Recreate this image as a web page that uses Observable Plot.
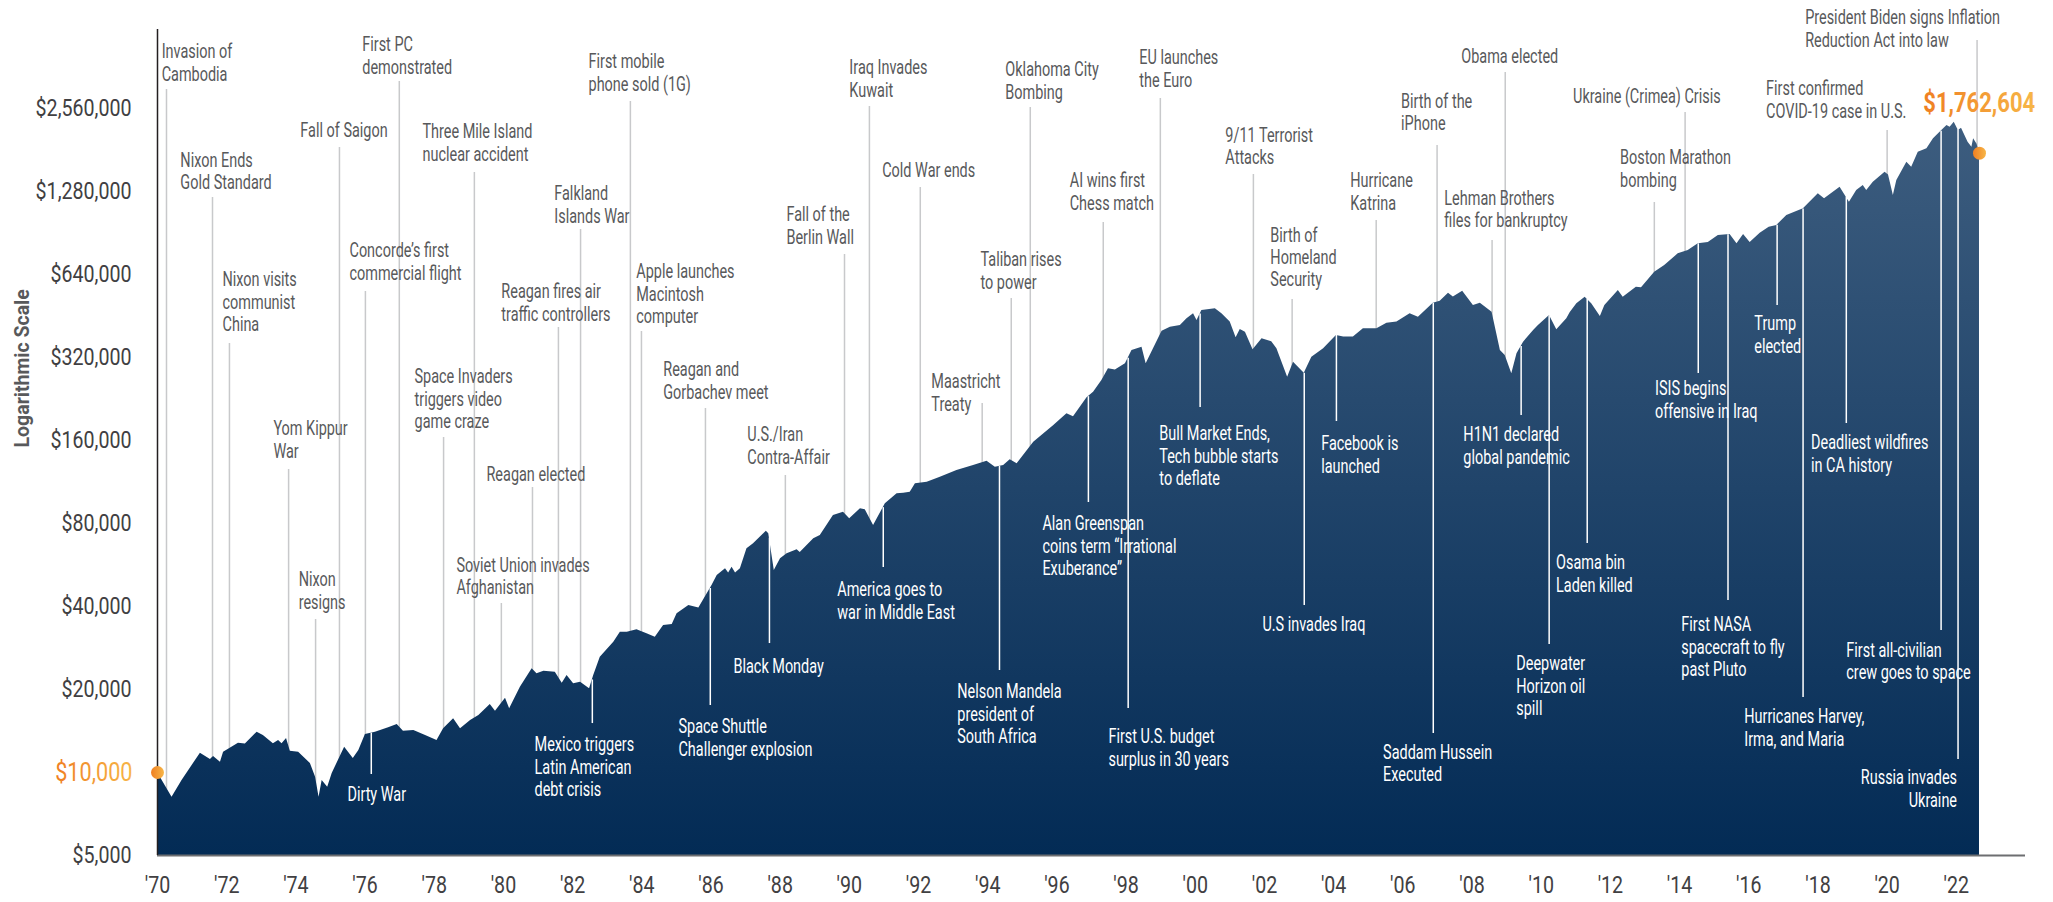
<!DOCTYPE html>
<html><head><meta charset="utf-8">
<script src="https://cdn.jsdelivr.net/npm/d3@7"></script>
<script src="https://cdn.jsdelivr.net/npm/@observablehq/plot@0.6"></script>
<style>
html,body{margin:0;padding:0;background:#fff;}
#chart svg{display:block;}
</style></head><body><div id="chart"></div>
<script>
// ---- series: growth of $10,000 ----
const seriesYears = [1970.00,1970.42,1970.71,1971.24,1971.53,1971.62,1971.82,1971.91,1972.34,1972.54,1972.88,1973.06,1973.35,1973.50,1973.60,1973.73,1973.84,1974.08,1974.42,1974.57,1974.67,1974.76,1974.92,1975.05,1975.41,1975.66,1975.82,1976.01,1976.30,1976.68,1976.93,1977.11,1977.41,1977.75,1978.08,1978.27,1978.56,1978.76,1979.05,1979.29,1979.62,1979.77,1980.06,1980.18,1980.49,1980.83,1980.97,1981.17,1981.50,1981.70,1981.84,1982.03,1982.23,1982.49,1982.61,1982.80,1983.19,1983.38,1983.58,1983.86,1984.15,1984.39,1984.63,1984.88,1985.02,1985.36,1985.65,1986.03,1986.18,1986.42,1986.51,1986.61,1986.71,1986.85,1987.04,1987.23,1987.60,1987.67,1987.83,1988.01,1988.20,1988.49,1988.58,1988.97,1989.16,1989.54,1989.83,1990.01,1990.32,1990.46,1990.70,1991.04,1991.38,1991.57,1991.76,1991.91,1992.25,1992.63,1993.11,1993.59,1993.98,1994.22,1994.46,1994.65,1994.85,1995.33,1995.91,1996.29,1996.48,1996.87,1997.06,1997.30,1997.49,1997.69,1997.98,1998.17,1998.46,1998.58,1999.04,1999.28,1999.57,1999.76,1999.95,2000.05,2000.19,2000.58,2000.77,2001.01,2001.18,2001.30,2001.45,2001.67,2001.93,2002.21,2002.36,2002.67,2002.84,2003.15,2003.37,2003.71,2004.08,2004.29,2004.57,2004.86,2005.25,2005.54,2005.83,2006.21,2006.45,2006.88,2007.08,2007.32,2007.46,2007.73,2008.04,2008.24,2008.58,2008.82,2008.96,2009.15,2009.30,2009.49,2009.78,2009.92,2010.24,2010.45,2010.74,2010.84,2011.03,2011.27,2011.46,2011.71,2011.84,2012.23,2012.37,2012.75,2012.90,2013.28,2013.57,2013.96,2014.25,2014.54,2014.83,2015.12,2015.46,2015.66,2015.85,2016.04,2016.33,2016.59,2016.81,2017.10,2017.58,2017.96,2018.01,2018.19,2018.64,2018.91,2019.12,2019.31,2019.41,2019.60,2019.94,2020.04,2020.18,2020.28,2020.57,2020.71,2020.90,2021.15,2021.34,2021.58,2021.73,2021.82,2021.94,2022.06,2022.15,2022.34,2022.45,2022.50,2022.60,2022.67];
const seriesValues = [10000,8135,9355,11750,11150,11430,10900,11850,12770,12700,14000,13620,12710,13060,12710,13280,11950,11850,10780,9615,8135,9355,8845,9920,12350,11240,12015,13740,14000,14530,14930,14120,14200,13620,13060,14410,15660,14410,15440,16100,17640,16690,18600,17020,20400,23770,22800,23300,23100,21080,22480,20970,21270,20110,22480,26190,29690,32280,32280,32930,31850,30950,34130,34450,37630,40340,39500,47670,51800,54800,52900,55560,52900,54800,64760,67500,75020,73500,54040,59590,62110,64220,62800,70500,72360,85500,87900,83200,90440,89800,78680,94300,102540,103000,103900,111400,113000,117800,124600,129900,134600,128000,129900,136150,131700,157800,181400,200000,195000,228500,239500,264100,291200,288000,303600,339200,348800,303600,398600,412100,418000,442000,461000,436000,473800,480700,461000,430000,377200,404300,395000,341300,374000,365000,344200,271500,307700,280700,320900,344200,384500,380000,380000,406700,406700,426100,430000,461000,448100,503600,512000,547600,530000,556700,494000,503000,467200,339200,325500,279300,330200,363600,400900,418000,454500,403200,442000,466000,501000,529600,501000,450600,494000,560000,529600,575600,573000,652600,689800,760500,782000,827000,836000,886500,893000,827000,893000,836000,903700,950000,963500,1047000,1107700,1238000,1255000,1204000,1327000,1170600,1290700,1345500,1290700,1383500,1504500,1470000,1238000,1403400,1635000,1568000,1777500,1828000,1988000,2130000,2221000,2190000,2283000,2130000,2170000,1932000,1853000,1988000,1900000,1762604];

// ---- axes ----
const yTicks = [5000,10000,20000,40000,80000,160000,320000,640000,1280000,2560000];
const yTickLabels = ["$5,000","$10,000","$20,000","$40,000","$80,000","$160,000","$320,000","$640,000","$1,280,000","$2,560,000"];
const xTicks = [1970,1972,1974,1976,1978,1980,1982,1984,1986,1988,1990,1992,1994,1996,1998,2000,2002,2004,2006,2008,2010,2012,2014,2016,2018,2020,2022];
const xTickLabels = ["'70","'72","'74","'76","'78","'80","'82","'84","'86","'88","'90","'92","'94","'96","'98","'00","'02","'04","'06","'08","'10","'12","'14","'16","'18","'20","'22"];
const yAxisTitle = "Logarithmic Scale";
const startValue = 10000;
const endValue = 1762604;
const endLabel = "$1,762,604";

// ---- events above the curve: [label, date] ----
const eventsAbove = [
  ["Invasion of\nCambodia", 1970.26],
  ["Nixon Ends\nGold Standard", 1971.59],
  ["Nixon visits\ncommunist\nChina", 1972.08],
  ["Yom Kippur\nWar", 1973.79],
  ["Nixon\nresigns", 1974.57],
  ["Fall of Saigon", 1975.26],
  ["Concorde’s first\ncommercial flight", 1976.01],
  ["First PC\ndemonstrated", 1976.99],
  ["Space Invaders\ntriggers video\ngame craze", 1978.27],
  ["Three Mile Island\nnuclear accident", 1979.16],
  ["Soviet Union invades\nAfghanistan", 1979.94],
  ["Reagan elected", 1980.84],
  ["Reagan fires air\ntraffic controllers", 1981.59],
  ["Falkland\nIslands War", 1982.23],
  ["First mobile\nphone sold (1G)", 1983.67],
  ["Apple launches\nMacintosh\ncomputer", 1983.99],
  ["Reagan and\nGorbachev meet", 1985.84],
  ["U.S./Iran\nContra-Affair", 1988.15],
  ["Fall of the\nBerlin Wall", 1989.86],
  ["Iraq Invades\nKuwait", 1990.58],
  ["Cold War ends", 1992.05],
  ["Maastricht\nTreaty", 1993.84],
  ["Taliban rises\nto power", 1994.68],
  ["Oklahoma City\nBombing", 1995.23],
  ["AI wins first\nChess match", 1997.34],
  ["EU launches\nthe Euro", 1998.99],
  ["9/11 Terrorist\nAttacks", 2001.68],
  ["Birth of\nHomeland\nSecurity", 2002.80],
  ["Hurricane\nKatrina", 2005.23],
  ["Birth of the\niPhone", 2006.99],
  ["Obama elected", 2008.96],
  ["Lehman Brothers\nfiles for bankruptcy", 2008.58],
  ["Ukraine (Crimea) Crisis", 2014.16],
  ["Boston Marathon\nbombing", 2013.27],
  ["First confirmed\nCOVID-19 case in U.S.", 2020.00],
  ["President Biden signs Inflation\nReduction Act into law", 2022.60]
];
// label placement for those: [text start (year), text top ($), leader top ($)]
const aboveLayout = [
  [1970.12,4442000,3000500],[1970.66,1795000,1217700],[1971.88,661700,359800],[1973.35,190700,125600],
  [1974.08,54040,35880],[1974.13,2315000,1848000],[1975.55,843400,555200],[1975.92,4711000,3207000],
  [1977.43,294400,164000],[1977.66,2277000,1500000],[1978.64,61210,41010],[1979.51,129900,108100],
  [1979.94,598800,411000],[1981.47,1357000,931800],[1982.46,4087000,2714000],[1983.84,707600,397500],
  [1984.62,312100,209100],[1987.05,181400,119400],[1988.18,1138600,756300],[1990.00,3886000,2603000],
  [1990.95,1657500,1323000],[1992.37,282300,218000],[1993.79,781900,523900],[1994.51,3822000,2582000],
  [1996.37,1512700,988300],[1998.38,4226000,2782000],[2000.87,2212000,1475000],[2002.17,963300,519500],
  [2004.48,1512700,1005000],[2005.95,2939000,1879000],[2007.69,4261000,3459000],[2007.20,1312000,850400],
  [2010.92,3051000,2476000],[2012.28,1833000,1167400],[2016.50,3261000,2130000],[2017.63,5902000,4516000]
];

// ---- events inside the area: [label, date] ----
const eventsBelow = [
  ["Dirty War", 1976.18],
  ["Mexico triggers\nLatin American\ndebt crisis", 1982.57],
  ["Space Shuttle\nChallenger explosion", 1985.98],
  ["Black Monday", 1987.69],
  ["America goes to\nwar in Middle East", 1990.98],
  ["Nelson Mandela\npresident of\nSouth Africa", 1994.34],
  ["Alan Greenspan\ncoins term “Irrational\nExuberance”", 1996.91],
  ["First U.S. budget\nsurplus in 30 years", 1998.06],
  ["Bull Market Ends,\nTech bubble starts\nto deflate", 2000.14],
  ["U.S invades Iraq", 2003.15],
  ["Facebook is\nlaunched", 2004.08],
  ["Saddam Hussein\nExecuted", 2006.88],
  ["H1N1 declared\nglobal pandemic", 2009.42],
  ["Deepwater\nHorizon oil\nspill", 2010.23],
  ["Osama bin\nLaden killed", 2011.33],
  ["ISIS begins\noffensive in Iraq", 2014.54],
  ["First NASA\nspacecraft to fly\npast Pluto", 2015.40],
  ["Trump\nelected", 2016.82],
  ["Hurricanes Harvey,\nIrma, and Maria", 2017.57],
  ["Deadliest wildfires\nin CA history", 2018.82],
  ["First all-civilian\ncrew goes to space", 2021.56]
];
const belowLayout = [
  [1975.49,8970,9835],[1980.90,13620,15050],[1985.06,15830,17500],[1986.65,26140,29360],
  [1989.65,49690,55410],[1993.12,21200,23440],[1995.58,86260,95340],[1997.49,14560,17060],
  [1998.96,183000,210900],[2001.94,37120,40340],[2003.64,168200,187500],[2005.43,12840,13850],
  [2007.75,181400,197100],[2009.28,26800,29120],[2010.43,62290,67700],[2013.29,266300,280000],
  [2014.05,37120,42040],[2016.16,458300,494200],[2015.87,17210,18710],[2017.80,169600,184400],
  [2018.82,30100,32740]
];
// right-aligned label
const eventsBelowRight = [["Russia invades\nUkraine", 2022.05]];
const belowRightLayout = [[2022.02,10340,11150]];
const endLabelLayout = [2024.28, 2669000];

// ---- build ----
const series = seriesYears.map((t, i) => ({year: t, value: seriesValues[i]}));
function valueAt(t) {
  const i = d3.bisectRight(seriesYears, t);
  if (i <= 0) return seriesValues[0];
  if (i >= seriesYears.length) return seriesValues[seriesValues.length - 1];
  const t0 = seriesYears[i - 1], t1 = seriesYears[i];
  const f = (t - t0) / (t1 - t0);
  return Math.exp(Math.log(seriesValues[i - 1]) * (1 - f) + Math.log(seriesValues[i]) * f);
}
const above = eventsAbove.map(([label, date], i) => ({label, date, tx: aboveLayout[i][0], ty: aboveLayout[i][1], lt: aboveLayout[i][2]}));
const below = eventsBelow.map(([label, date], i) => ({label, date, tx: belowLayout[i][0], ty: belowLayout[i][1], lb: belowLayout[i][2], v: valueAt(date)}));
const belowR = eventsBelowRight.map(([label, date], i) => ({label, date, tx: belowRightLayout[i][0], ty: belowRightLayout[i][1], lb: belowRightLayout[i][2], v: valueAt(date)}));

const FONT = "Roboto,'Noto Sans',sans-serif";
const yMin = 5000, yMax = 4952000;
const grayText = "#58595b", axisText = "#414042";

const defs = () => {
  const d = d3.create("svg:defs");
  const g = d.append("linearGradient").attr("id", "areaGrad").attr("x1", 0).attr("y1", 0).attr("x2", 0).attr("y2", 1);
  g.append("stop").attr("offset", "0%").attr("stop-color", "#3d5d7f");
  g.append("stop").attr("offset", "100%").attr("stop-color", "#032b55");
  const o = d.append("linearGradient").attr("id", "orangeGrad").attr("x1", 0).attr("y1", 0).attr("x2", 1).attr("y2", 0);
  o.append("stop").attr("offset", "0%").attr("stop-color", "#ef7f22");
  o.append("stop").attr("offset", "100%").attr("stop-color", "#f7b648");
  return d.node();
};

const labelOpts = {textAnchor: "start", lineAnchor: "top", lineHeight: 1.07, fontSize: 21, fontFamily: FONT, ariaDescription: "event label"};
const tickFmtY = d => yTickLabels[yTicks.indexOf(d)];

const chart = Plot.plot({
  width: 2053, height: 902,
  marginLeft: 157, marginRight: 28, marginTop: 29, marginBottom: 47,
  x: {domain: [1970, 2024], axis: null},
  y: {type: "log", domain: [yMin, yMax], axis: null},
  style: {fontFamily: FONT, background: "white", overflow: "visible"},
  marks: [
    defs,
    Plot.ruleX(above, {x: "date", y1: "lt", y2: yMin, stroke: "#c8c9cb", strokeWidth: 1.5}),
    Plot.areaY(series, {x: "year", y1: yMin, y2: "value", fill: "url(#areaGrad)"}),
    Plot.ruleX(below, {x: "date", y1: "v", y2: "lb", stroke: "white", strokeWidth: 1.5}),
    Plot.ruleX(belowR, {x: "date", y1: "v", y2: "lb", stroke: "white", strokeWidth: 1.5}),
    Plot.text(above, {x: "tx", y: "ty", text: "label", fill: grayText, ...labelOpts}),
    Plot.text(below, {x: "tx", y: "ty", text: "label", fill: "white", ...labelOpts}),
    Plot.text(belowR, {x: "tx", y: "ty", text: "label", fill: "white", ...labelOpts, textAnchor: "end"}),
    Plot.ruleY([yMin], {stroke: "#6d6e71", strokeWidth: 2}),
    Plot.ruleX([1970], {y1: yMin, y2: yMax, stroke: "#231f20", strokeWidth: 1.5}),
    Plot.axisX(xTicks, {tickSize: 0, tickPadding: 20, tickFormat: d => xTickLabels[xTicks.indexOf(d)], fontSize: 24, color: axisText, label: null}),
    Plot.axisY(yTicks.filter(d => d !== startValue), {tickSize: 0, tickPadding: 26, tickFormat: tickFmtY, fontSize: 24, color: axisText, label: null}),
    Plot.axisY([startValue], {tickSize: 0, tickPadding: 25, tickFormat: tickFmtY, fontSize: 26.5, fill: "url(#orangeGrad)", label: null}),
    Plot.text([yAxisTitle], {frameAnchor: "left", rotate: -90, dx: -135, dy: 5, fontSize: 19.5, fontWeight: "bold", fill: "#58595b", fontFamily: FONT}),
    Plot.dot([[seriesYears[0], startValue], [seriesYears[seriesYears.length - 1], endValue]], {x: d => d[0], y: d => d[1], r: 6.5, fill: "url(#orangeGrad)", stroke: null}),
    Plot.text([endLabel], {x: endLabelLayout[0], y: endLabelLayout[1], textAnchor: "end", lineAnchor: "middle", fontSize: 27, fontWeight: "bold", fill: "url(#orangeGrad)", ariaDescription: "end label"})
  ]
});
document.getElementById("chart").appendChild(chart);

// condensed type: squeeze text horizontally to the reference's narrow face
const svgSel = d3.select(chart);
function measure(str, size, weight) {
  const t = svgSel.append("text").attr("font-family", FONT).attr("font-size", size).attr("font-weight", weight).text(str);
  const w = t.node().getComputedTextLength();
  t.remove();
  return w;
}
const sLabel = 110 / measure("Three Mile Island", 21, "normal");
const sTick = 96 / measure("$2,560,000", 24, "normal");
const sEnd = 112 / measure(endLabel, 27, "bold");
function squeeze(sel, s) {
  sel.each(function () {
    this.setAttribute("transform", (this.getAttribute("transform") || "") + ` scale(${s.toFixed(4)},1)`);
  });
}
squeeze(svgSel.selectAll('g[aria-description="event label"] > text'), sLabel);
squeeze(svgSel.selectAll('g[aria-label$="tick label"] > text'), sTick);
squeeze(svgSel.selectAll('g[aria-description="end label"] > text'), sEnd);
</script></body></html>
